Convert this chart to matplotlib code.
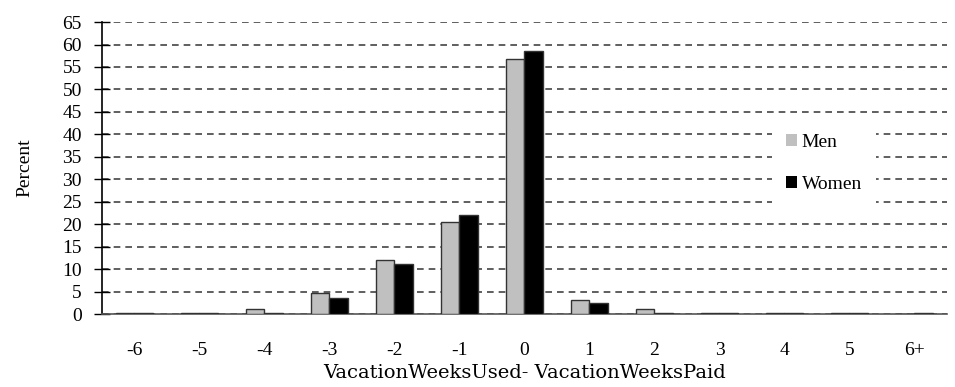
import matplotlib
matplotlib.use("Agg")
import matplotlib.pyplot as plt
import numpy as np

categories = ["-6", "-5", "-4", "-3", "-2", "-1", "0", "1", "2", "3", "4", "5", "6+"]
men = [0.3, 0.3, 1.1, 4.7, 12.0, 20.4, 56.8, 3.1, 1.1, 0.3, 0.3, 0.3, 0.0]
women = [0.3, 0.3, 0.3, 3.6, 11.1, 22.1, 58.5, 2.4, 0.3, 0.3, 0.3, 0.3, 0.3]
yticks = list(range(0, 66, 5))

plt.rcParams['font.family'] = ['Liberation Serif', 'DejaVu Serif']

fig = plt.figure(figsize=(9.55, 3.87), dpi=100)
ax = fig.add_axes([0.1068, 0.1886, 0.8848, 0.7544])

x = np.arange(len(categories))
w = 0.29
ax.bar(x - w / 2, men, width=w, color="#c0c0c0", edgecolor="#333333", linewidth=1, label="Men", zorder=3)
ax.bar(x + w / 2, women, width=w, color="black", edgecolor="#333333", linewidth=1, label="Women", zorder=3)

ax.set_xlim(-0.5, len(categories) - 0.5)
ax.set_ylim(0, 65)
ax.set_yticks(yticks)
ax.set_xticks(x)
ax.set_xticklabels(categories)
ax.yaxis.grid(True, linestyle=(0, (4, 3)), color="#444444", linewidth=1.2, zorder=0)
ax.set_axisbelow(True)

for s in ["top", "right"]:
    ax.spines[s].set_visible(False)
ax.spines["left"].set_color("black")
ax.spines["left"].set_linewidth(1.2)
ax.spines["bottom"].set_color("#555555")
ax.spines["bottom"].set_linewidth(1.2)

ax.tick_params(axis="y", direction="inout", length=11, width=1, labelsize=14, pad=9)
ax.tick_params(axis="x", length=0, labelsize=14, pad=20)

ax.set_ylabel("Percent", fontsize=14, labelpad=21)
ax.set_xlabel("VacationWeeksUsed- VacationWeeksPaid", fontsize=14, labelpad=4,
              family=["DejaVu Serif"])

leg = ax.legend(loc="upper left", bbox_to_anchor=(0.782, 0.697), frameon=True, fancybox=False,
                edgecolor="none", facecolor="white", framealpha=1, fontsize=14,
                handlelength=0.55, handleheight=0.55, handletextpad=0.25, labelspacing=1.3,
                borderpad=0.7)
leg.set_zorder(5)
for h in leg.legend_handles:
    h.set_edgecolor("none")

fig.savefig("out.png", dpi=100)
